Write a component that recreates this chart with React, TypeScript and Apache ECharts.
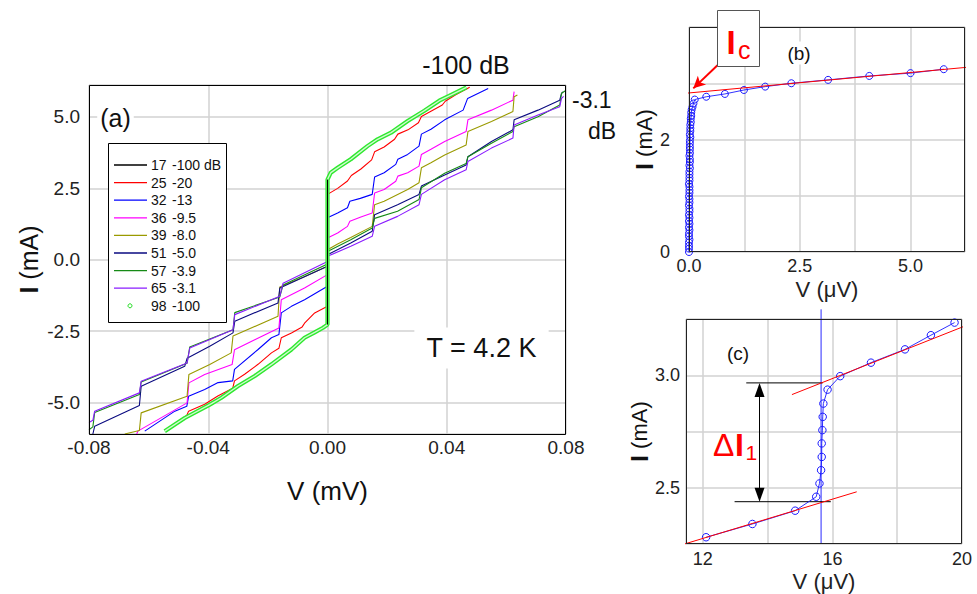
import React, { useEffect, useRef } from 'react';
import * as echarts from 'echarts';

const FONT = '"Liberation Sans", Arial, Helvetica, sans-serif';

// ---------------- Panel (a) : I–V curves ----------------
const curveIds = ['17', '25', '32', '36', '39', '51', '57', '65', '98'];
const curvePowers = ['-100 dB', '-20', '-13', '-9.5', '-8.0', '-5.0', '-3.9', '-3.1', '-100'];
const curveColors = ['#000000', '#ff0000', '#0000ff', '#ff00ff', '#9a9a00', '#0a0a80', '#168a16', '#8a1cff', '#22dd22'];

const iv17 = [[0, -2.27], [0, 2.81]];
const iv25 = [[-0.054, -5.94], [-0.0472, -5.45], [-0.0466, -5.3], [-0.0412, -5.06], [-0.0368, -4.77], [-0.0318, -4.5], [-0.0312, -4.24], [-0.0278, -4.01], [-0.0233, -3.66], [-0.0188, -3.26], [-0.0163, -3.1], [-0.0155, -2.73], [-0.0121, -2.56], [-0.0085, -2.35], [-0.0077, -2.22], [-0.0043, -1.86], [0, -1.63], [0, 2.29], [0.0034, 2.5], [0.0067, 2.76], [0.008, 2.95], [0.0112, 3.18], [0.0148, 3.5], [0.0158, 3.78], [0.019, 3.95], [0.0225, 4.22], [0.0236, 4.4], [0.027, 4.55], [0.0305, 4.8], [0.0315, 5.02], [0.035, 5.22], [0.0385, 5.42], [0.0395, 5.55], [0.043, 5.78], [0.0477, 6.04]];
const iv32 = [[-0.0613, -6.0], [-0.0512, -5.3], [-0.0472, -5.13], [-0.0466, -4.78], [-0.0412, -4.54], [-0.0367, -4.3], [-0.0318, -4.24], [-0.0312, -3.84], [-0.0233, -3.14], [-0.0188, -2.73], [-0.0163, -2.62], [-0.0155, -1.86], [-0.0121, -1.63], [-0.0077, -1.4], [0, -0.93], [0, 1.47], [0.0034, 1.64], [0.0067, 1.82], [0.0075, 2.05], [0.011, 2.15], [0.015, 2.29], [0.0158, 2.9], [0.019, 3.05], [0.0229, 3.34], [0.0236, 3.52], [0.0269, 3.69], [0.0307, 3.98], [0.0315, 4.4], [0.0347, 4.57], [0.0393, 4.9], [0.0455, 5.24], [0.047, 5.65], [0.0539, 6.0]];
const iv36 = [[-0.064, -6.1], [-0.0636, -6.0], [-0.0471, -5.01], [-0.0465, -4.31], [-0.0412, -4.02], [-0.032, -3.67], [-0.0312, -3.15], [-0.0163, -2.39], [-0.0155, -1.4], [-0.0077, -0.99], [0, -0.52], [0, 0.76], [0.0034, 0.94], [0.0067, 1.17], [0.0075, 1.35], [0.0112, 1.5], [0.015, 1.64], [0.0158, 2.34], [0.019, 2.46], [0.0229, 2.75], [0.0236, 2.93], [0.0269, 3.05], [0.0307, 3.28], [0.0315, 3.69], [0.0347, 3.87], [0.0393, 4.14], [0.0465, 4.49], [0.0471, 4.9], [0.055, 5.24], [0.0622, 5.59], [0.0626, 5.89]];
const iv39 = [[-0.068, -6.1], [-0.0631, -5.98], [-0.0625, -5.36], [-0.0471, -4.78], [-0.0465, -4.02], [-0.0395, -3.67], [-0.0323, -3.26], [-0.0317, -2.67], [-0.0166, -1.98], [-0.016, -0.95], [-0.008, -0.6], [0, -0.23], [0, 0.35], [0.0034, 0.55], [0.0078, 0.78], [0.015, 1.17], [0.0158, 1.93], [0.019, 2.05], [0.0269, 2.46], [0.0307, 2.7], [0.0315, 3.22], [0.0347, 3.4], [0.0393, 3.67], [0.0465, 4.02], [0.0471, 4.49], [0.055, 4.84], [0.0622, 5.19], [0.0626, 5.71], [0.0637, 5.77]];
const iv51 = [[-0.0787, -6.1], [-0.0781, -5.83], [-0.0631, -5.1], [-0.0625, -4.43], [-0.0479, -3.73], [-0.0471, -3.45], [-0.0395, -3.03], [-0.0317, -2.56], [-0.0311, -2.15], [-0.0166, -1.51], [-0.016, -0.99], [0, -0.23], [0, 0.18], [0.0078, 0.59], [0.015, 1.0], [0.0158, 1.58], [0.0235, 1.93], [0.0307, 2.29], [0.0315, 2.58], [0.0393, 2.97], [0.0465, 3.32], [0.0471, 3.61], [0.055, 4.14], [0.0622, 4.55], [0.0626, 4.9], [0.0706, 5.24], [0.0779, 5.59], [0.0785, 5.83], [0.079, 5.88]];
const iv57 = [[-0.08, -5.95], [-0.0787, -5.85], [-0.0781, -5.35], [-0.0631, -4.72], [-0.0625, -4.28], [-0.0471, -3.62], [-0.0462, -3.05], [-0.0317, -2.45], [-0.0311, -1.85], [-0.016, -1.3], [-0.0149, -0.88], [0, -0.15], [0, 0.29], [0.0078, 0.7], [0.015, 1.11], [0.0158, 1.45], [0.0235, 1.7], [0.0307, 2.11], [0.0315, 2.52], [0.0393, 3.03], [0.0465, 3.37], [0.0471, 3.61], [0.055, 4.08], [0.0622, 4.49], [0.0626, 4.66], [0.0706, 5.01], [0.0779, 5.42], [0.0785, 5.83], [0.0798, 5.92]];
const iv65 = [[-0.08, -5.7], [-0.0787, -5.62], [-0.0781, -5.3], [-0.0631, -4.66], [-0.0625, -4.25], [-0.0471, -3.61], [-0.0462, -3.09], [-0.0317, -2.45], [-0.0311, -1.92], [-0.016, -1.28], [-0.0149, -0.82], [0, -0.06], [0, 0.12], [0.0078, 0.47], [0.015, 0.82], [0.0158, 1.17], [0.0235, 1.52], [0.0307, 1.93], [0.0315, 2.29], [0.0393, 2.8], [0.0465, 3.15], [0.0471, 3.44], [0.055, 3.91], [0.0622, 4.26], [0.0626, 4.72], [0.0706, 5.07], [0.0779, 5.36], [0.0785, 5.65], [0.0792, 5.72]];
const iv98 = [[-0.0546, -6.0], [-0.0479, -5.54], [-0.0395, -5.07], [-0.0356, -4.83], [-0.03, -4.42], [-0.0244, -4.07], [-0.0188, -3.66], [-0.0121, -3.14], [-0.0077, -2.73], [-0.0043, -2.54], [-0.0015, -2.38], [0, -2.27], [0, 2.81], [0.0011, 3.05], [0.0034, 3.22], [0.0078, 3.52], [0.0134, 3.98], [0.0168, 4.22], [0.0213, 4.45], [0.0269, 4.86], [0.0325, 5.22], [0.0375, 5.57], [0.0408, 5.74], [0.0466, 6.04]];
const curves = [iv17, iv25, iv32, iv36, iv39, iv51, iv57, iv65, iv98];

// ---------------- Panel (b) : critical current ----------------
const bPoints = [[0.0, 0.0], [0.0, 0.06], [0.0, 0.11], [0.0, 0.17], [0.01, 0.22], [0.0, 0.28], [0.0, 0.33], [0.01, 0.39], [0.0, 0.44], [0.01, 0.5], [0.0, 0.55], [0.01, 0.61], [0.0, 0.66], [0.01, 0.72], [0.01, 0.77], [0.0, 0.83], [0.01, 0.88], [0.01, 0.94], [0.0, 0.99], [0.01, 1.05], [0.01, 1.1], [0.01, 1.16], [0.0, 1.21], [0.01, 1.27], [0.01, 1.32], [0.01, 1.38], [0.01, 1.43], [0.02, 1.49], [0.01, 1.54], [0.02, 1.6], [0.02, 1.65], [0.01, 1.71], [0.02, 1.76], [0.02, 1.82], [0.02, 1.87], [0.02, 1.93], [0.02, 1.98], [0.03, 2.04], [0.02, 2.09], [0.03, 2.15], [0.03, 2.2], [0.03, 2.26], [0.04, 2.31], [0.04, 2.37], [0.05, 2.42], [0.05, 2.48], [0.06, 2.53], [0.08, 2.58], [0.1, 2.64], [0.13, 2.71], [0.39, 2.76], [0.81, 2.81], [1.24, 2.88], [1.72, 2.94], [2.31, 3.0], [3.14, 3.06], [4.07, 3.13], [5.0, 3.18], [5.75, 3.25]];
const bFit = [[-0.93, 2.76], [6.5, 3.3]];
const bIcArrow = [[0.655, 3.328], [0.097, 2.909]];

// ---------------- Panel (c) : first Shapiro step ----------------
const cPoints = [[12.1, 2.28], [13.53, 2.339], [14.85, 2.398], [15.5, 2.46], [15.6, 2.519], [15.65, 2.578], [15.67, 2.637], [15.67, 2.697], [15.69, 2.756], [15.7, 2.815], [15.72, 2.874], [15.85, 2.936], [16.24, 2.996], [17.19, 3.056], [18.24, 3.115], [19.04, 3.178], [19.77, 3.234]];
const cFitLow = [[11.09, 2.235], [16.75, 2.482]];
const cFitHigh = [[14.75, 2.914], [20.32, 3.232]];
const cStepV = [[15.65, 3.293], [15.65, 2.25]];
const cRefHigh = [[13.34, 2.966], [15.7, 2.966]];
const cRefLow = [[12.98, 2.438], [15.95, 2.438]];
const cDeltaArrow = [[13.75, 2.935], [13.75, 2.469]];

const isMult = (v: number, step: number) => Math.abs(v / step - Math.round(v / step)) < 1e-6;

const labelStyle = (size: number, margin: number) => ({ fontSize: size, fontFamily: FONT, color: '#222', margin });
const gridSplit = { show: true, lineStyle: { color: '#d2d2d2', width: 1.5 } };
const noLine = { show: false };

function buildOption() {
  const smallXName = { fontSize: 22, fontFamily: FONT, color: '#222' };
  const xAxis: any[] = [
    {
      gridIndex: 0, type: 'value', min: -0.08, max: 0.08, interval: 0.04,
      axisLine: noLine, axisTick: noLine, splitLine: gridSplit,
      axisLabel: { ...labelStyle(19, 4), formatter: (v: number) => v.toFixed(2) },
      name: 'V (mV)', nameLocation: 'middle', nameGap: 44,
      nameTextStyle: { fontSize: 26, fontFamily: FONT, color: '#111' },
    },
    {
      gridIndex: 1, type: 'value', min: 0, max: 6.23, minInterval: 1.25, maxInterval: 1.25,
      axisLine: noLine, axisTick: noLine, splitLine: gridSplit,
      axisLabel: { ...labelStyle(18, 5), formatter: (v: number) => (isMult(v, 2.5) ? v.toFixed(1) : '') },
      name: 'V (μV)', nameLocation: 'middle', nameGap: 26, nameTextStyle: smallXName,
    },
    {
      gridIndex: 2, type: 'value', min: 11.48, max: 20, minInterval: 2, maxInterval: 2,
      axisLine: noLine, axisTick: noLine, splitLine: gridSplit,
      axisLabel: { ...labelStyle(18, 6), formatter: (v: number) => (isMult(v, 4) ? String(Math.round(v)) : '') },
      name: 'V (μV)', nameLocation: 'middle', nameGap: 26, nameTextStyle: smallXName,
    },
  ];
  const yRich = (big: number, small: number) => ({
    i: { fontSize: big, fontWeight: 'bold', fontFamily: FONT, color: '#111' },
    u: { fontSize: small, fontFamily: FONT, color: '#111' },
  });
  const yAxis: any[] = [
    {
      gridIndex: 0, type: 'value', min: -6.1, max: 6.12, minInterval: 2.5, maxInterval: 2.5,
      axisLine: noLine, axisTick: noLine, splitLine: gridSplit,
      axisLabel: { ...labelStyle(19, 9), formatter: (v: number) => (isMult(v, 2.5) ? v.toFixed(1) : '') },
      name: '{i|I} {u|(mA)}', nameLocation: 'middle', nameRotate: 90, nameGap: 48,
      nameTextStyle: { fontSize: 25, fontFamily: FONT, rich: yRich(25, 25) },
    },
    {
      gridIndex: 1, type: 'value', min: 0, max: 4, interval: 1,
      axisLine: noLine, axisTick: noLine, splitLine: gridSplit,
      axisLabel: { ...labelStyle(18, 19), formatter: (v: number) => (v === 0 || v === 2 ? String(v) : '') },
      name: '{i|I} {u|(mA)}', nameLocation: 'middle', nameRotate: 90, nameGap: 32,
      nameTextStyle: { fontSize: 22, fontFamily: FONT, rich: yRich(24, 22) },
    },
    {
      gridIndex: 2, type: 'value', min: 2.25, max: 3.25, interval: 0.25,
      axisLine: noLine, axisTick: noLine, splitLine: gridSplit,
      axisLabel: { ...labelStyle(18, 6), formatter: (v: number) => (isMult(v, 0.5) ? v.toFixed(1) : '') },
      name: '{i|I} {u|(mA)}', nameLocation: 'middle', nameRotate: 90, nameGap: 30,
      nameTextStyle: { fontSize: 22, fontFamily: FONT, rich: yRich(24, 22) },
    },
  ];

  const series: any[] = [];
  for (let k = 1; k < 8; k++) {
    series.push({
      name: `${curveIds[k]} ${curvePowers[k]}`, type: 'line', xAxisIndex: 0, yAxisIndex: 0,
      data: curves[k], symbol: 'none', silent: true,
      lineStyle: { color: curveColors[k], width: 1.1 }, z: 3,
    });
  }
  // circle curve (98, -100 dB): a dense chain of open circles
  series.push({
    name: `${curveIds[8]} ${curvePowers[8]}`, type: 'line', xAxisIndex: 0, yAxisIndex: 0,
    data: iv98, symbol: 'none', silent: true,
    lineStyle: { color: '#2ee82e', width: 4.2 }, z: 4,
  });
  series.push({
    name: 'circle-core', type: 'line', xAxisIndex: 0, yAxisIndex: 0,
    data: iv98, symbol: 'none', silent: true,
    lineStyle: { color: '#d2f9d2', width: 1.4 }, z: 5,
  });
  series.push({
    name: `${curveIds[0]} ${curvePowers[0]}`, type: 'line', xAxisIndex: 0, yAxisIndex: 0,
    data: iv17, symbol: 'none', silent: true,
    lineStyle: { color: curveColors[0], width: 1 }, z: 6,
  });

  const openCircle = { color: 'rgba(255,255,255,0)', borderColor: '#1a1aff', borderWidth: 1 };
  series.push({
    name: 'b-data', type: 'line', xAxisIndex: 1, yAxisIndex: 1, data: bPoints, clip: false,
    symbol: 'circle', symbolSize: 7, showSymbol: true, showAllSymbol: true, silent: true,
    itemStyle: openCircle, lineStyle: { color: '#1a1aff', width: 0.9 }, z: 3,
  });
  series.push({
    name: 'b-fit', type: 'line', xAxisIndex: 1, yAxisIndex: 1, data: bFit, clip: false,
    symbol: 'none', silent: true, lineStyle: { color: '#ff0000', width: 1 }, z: 4,
    markLine: {
      silent: true, symbol: ['none', 'arrow'], symbolSize: [9, 12],
      lineStyle: { color: '#ff0000', width: 2, type: 'solid' }, label: { show: false },
      data: [[{ coord: bIcArrow[0] }, { coord: bIcArrow[1] }]],
    },
  });
  series.push({
    name: 'c-step', type: 'line', xAxisIndex: 2, yAxisIndex: 2, data: cStepV, clip: false,
    symbol: 'none', silent: true, lineStyle: { color: '#2a2aff', width: 1 }, z: 2,
  });
  series.push({
    name: 'c-ref-high', type: 'line', xAxisIndex: 2, yAxisIndex: 2, data: cRefHigh, clip: false,
    symbol: 'none', silent: true, lineStyle: { color: '#000', width: 1 }, z: 2,
  });
  series.push({
    name: 'c-ref-low', type: 'line', xAxisIndex: 2, yAxisIndex: 2, data: cRefLow, clip: false,
    symbol: 'none', silent: true, lineStyle: { color: '#000', width: 1 }, z: 2,
    markLine: {
      silent: true, symbol: ['triangle', 'triangle'], symbolSize: [10, 14],
      lineStyle: { color: '#000', width: 1, type: 'solid' }, itemStyle: { color: '#000' }, label: { show: false },
      data: [[{ coord: cDeltaArrow[0] }, { coord: cDeltaArrow[1] }]],
    },
  });
  series.push({
    name: 'c-data', type: 'line', xAxisIndex: 2, yAxisIndex: 2, data: cPoints, clip: false,
    symbol: 'circle', symbolSize: 7.5, showSymbol: true, showAllSymbol: true, silent: true,
    itemStyle: openCircle, lineStyle: { color: '#1a1aff', width: 0.9 }, z: 3,
  });
  series.push({
    name: 'c-fit-low', type: 'line', xAxisIndex: 2, yAxisIndex: 2, data: cFitLow, clip: false,
    symbol: 'none', silent: true, lineStyle: { color: '#ff0000', width: 1 }, z: 4,
  });
  series.push({
    name: 'c-fit-high', type: 'line', xAxisIndex: 2, yAxisIndex: 2, data: cFitHigh, clip: false,
    symbol: 'none', silent: true, lineStyle: { color: '#ff0000', width: 1 }, z: 4,
  });

  const txt = (text: string, x: number, y: number, size: number, extra: any = {}, z = 120) => ({
    type: 'text', x, y, z,
    style: {
      text, fontSize: size, fontFamily: FONT, fill: '#111',
      align: 'center', verticalAlign: 'middle', textAlign: 'center', textVerticalAlign: 'middle',
      ...extra,
    },
  });
  const left = { align: 'left', textAlign: 'left' };

  const graphic: any[] = [
    { type: 'rect', z: 100, shape: { x: 89.5, y: 85.5, width: 476, height: 349 }, style: { fill: 'none', stroke: '#000', lineWidth: 1 } },
    { type: 'rect', z: 100, shape: { x: 689.5, y: 27.5, width: 275, height: 224 }, style: { fill: 'none', stroke: '#222', lineWidth: 1 } },
    { type: 'rect', z: 100, shape: { x: 686.5, y: 319.5, width: 275, height: 224 }, style: { fill: 'none', stroke: '#222', lineWidth: 1 } },
    txt('(a)', 115.5, 118, 25, { backgroundColor: '#fff', padding: [1, 3, 1, 3] }),
    txt('T = 4.2 K', 481.5, 348, 27, { backgroundColor: '#fff', padding: [6, 12, 8, 12] }),
    txt('-100 dB', 466, 65, 25),
    txt('-3.1', 572, 100, 23, left),
    txt('dB', 588, 131, 23, left),
    { type: 'rect', z: 110, shape: { x: 108.5, y: 143.5, width: 118, height: 179 }, style: { fill: '#fff', stroke: '#000', lineWidth: 1 } },
  ];
  curveIds.forEach((id, k) => {
    const y = 165 + k * 17.6;
    if (k === 8) {
      graphic.push({ type: 'circle', z: 115, shape: { cx: 130, cy: y, r: 2 }, style: { fill: 'none', stroke: curveColors[8], lineWidth: 1 } });
    } else {
      graphic.push({ type: 'line', z: 115, shape: { x1: 114, y1: y, x2: 147, y2: y }, style: { stroke: curveColors[k], lineWidth: 1.3 } });
    }
    graphic.push(txt(id, 151, y, 14, left));
    graphic.push(txt(curvePowers[k], 172, y, 14, left));
  });
  graphic.push(
    txt('(b)', 799, 53, 19, { backgroundColor: '#fff', padding: [2, 3, 2, 3] }),
    { type: 'rect', z: 125, shape: { x: 717.5, y: 10.5, width: 42, height: 56 }, style: { fill: '#fff', stroke: '#555', lineWidth: 1 } },
    txt('I', 726.5, 42, 33, { fill: '#ff0000', fontWeight: 'bold', ...left }, 130),
    txt('c', 738, 50, 25, { fill: '#ff0000', ...left }, 130),
    txt('(c)', 738, 353, 19),
    txt('Δ', 713, 445, 32, { fill: '#ff0000', ...left }),
    txt('I', 735, 445, 32, { fill: '#ff0000', fontWeight: 'bold', ...left }),
    txt('1', 745.5, 452, 21, { fill: '#ff0000', ...left }),
  );

  return {
    animation: false,
    backgroundColor: '#ffffff',
    grid: [
      { left: 89, top: 85, width: 477, height: 349, outerBoundsMode: 'none' },
      { left: 689, top: 27, width: 276, height: 225, outerBoundsMode: 'none' },
      { left: 686, top: 319, width: 276, height: 225, outerBoundsMode: 'none' },
    ],
    xAxis, yAxis, series, graphic,
  };
}

export default function App() {
  const ref = useRef<HTMLDivElement>(null);
  useEffect(() => {
    if (!ref.current) return;
    const chart = echarts.init(ref.current, undefined, { renderer: 'svg' });
    chart.setOption(buildOption() as any);
    return () => chart.dispose();
  }, []);
  return (
    <div
      ref={ref}
      style={{ position: 'fixed', left: 0, top: 0, width: 977, height: 594, background: '#fff' }}
    />
  );
}
